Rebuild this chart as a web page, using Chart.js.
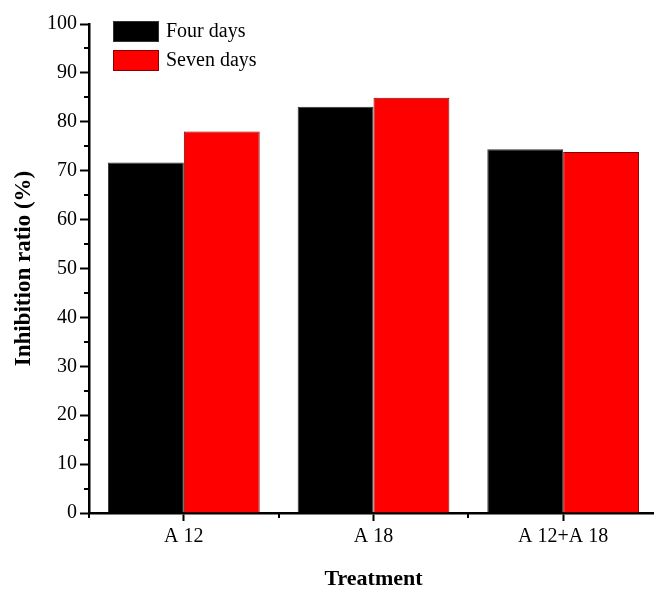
<!DOCTYPE html>
<html>
<head>
<meta charset="utf-8">
<title>Inhibition ratio</title>
<script src="https://cdn.jsdelivr.net/npm/chart.js@4/dist/chart.umd.min.js"></script>
<style>
  html, body { margin: 0; padding: 0; background: #fff; overflow: hidden; }
  canvas { display: block; }
</style>
</head>
<body>
<canvas id="chart-inhibition" width="660" height="590"></canvas>
<script>
// data
var treatments = ["A 12", "A 18", "A 12+A 18"];
var seriesNames = ["Four days", "Seven days"];
var fourDays = [71.7, 83.1, 74.4];
var sevenDays = [78.0, 84.9, 73.8];
var yMinorTicks = [5, 15, 25, 35, 45, 55, 65, 75, 85, 95];

var serif = "'Liberation Serif', 'Times New Roman', serif";

// minor ticks + legend inside plot
var extrasPlugin = {
  id: "extras",
  afterDraw: function (chart) {
    var ctx = chart.ctx;
    var area = chart.chartArea;
    var x = chart.scales.x;
    var y = chart.scales.y;
    ctx.save();
    ctx.strokeStyle = "#000";
    ctx.lineWidth = 2;
    // y minor
    for (var i = 0; i < yMinorTicks.length; i++) {
      var py = Math.round(y.getPixelForValue(yMinorTicks[i]));
      ctx.beginPath();
      ctx.moveTo(area.left, py);
      ctx.lineTo(area.left - 5, py);
      ctx.stroke();
    }
    // x minor (between categories)
    for (var j = -1; j < treatments.length; j++) {
      var px = Math.round((x.getPixelForValue(j) + x.getPixelForValue(j + 1)) / 2);
      ctx.beginPath();
      ctx.moveTo(px, area.bottom);
      ctx.lineTo(px, area.bottom + 5);
      ctx.stroke();
    }
    // legend
    var ds = chart.data.datasets;
    ctx.font = "20px " + serif;
    ctx.textBaseline = "middle";
    ctx.textAlign = "left";
    for (var k = 0; k < ds.length; k++) {
      var bx = area.left + 24;
      var by = area.top - 3 + k * 29;
      ctx.fillStyle = ds[k].backgroundColor;
      ctx.fillRect(bx, by, 46, 21);
      ctx.lineWidth = 1;
      ctx.strokeStyle = ds[k].borderColor;
      ctx.strokeRect(bx + 0.5, by + 0.5, 45, 20);
      ctx.fillStyle = "#000";
      ctx.fillText(ds[k].label, bx + 53, by + 11);
    }
    ctx.restore();
  },
};

var ctxInhibition = document.getElementById("chart-inhibition").getContext("2d");
var myChart = new Chart(ctxInhibition, {
  type: "bar",
  data: {
    labels: treatments,
    datasets: [
      {
        label: seriesNames[0],
        data: fourDays,
        backgroundColor: "#000000",
        borderColor: "#333333",
        borderWidth: 1,
      },
      {
        label: seriesNames[1],
        data: sevenDays,
        backgroundColor: "#ff0000",
        borderColor: "#8a0000",
        borderWidth: 1,
      },
    ],
  },
  options: {
    responsive: false,
    animation: false,
    devicePixelRatio: 1,
    layout: { padding: { top: 24, right: 2, left: 0, bottom: 0 } },
    plugins: {
      legend: { display: false },
      tooltip: { enabled: false },
    },
    datasets: {
      bar: { categoryPercentage: 0.8, barPercentage: 1.0 },
    },
    scales: {
      x: {
        afterFit: function (scale) {
          scale.height = 77;
        },
        grid: {
          display: true,
          drawOnChartArea: false,
          offset: false,
          tickLength: 8,
          tickWidth: 2,
          color: "#000",
        },
        border: { display: true, color: "#000", width: 2.5 },
        ticks: {
          color: "#000",
          padding: 4,
          font: { family: serif, size: 20 },
        },
        title: {
          display: true,
          text: "Treatment",
          color: "#000",
          padding: { top: 13, bottom: 0 },
          font: { family: serif, size: 22, weight: "bold", lineHeight: 1.0 },
        },
      },
      y: {
        min: 0,
        max: 100,
        afterFit: function (scale) {
          scale.width = 89;
        },
        grid: {
          display: true,
          drawOnChartArea: false,
          tickLength: 9,
          tickWidth: 2,
          color: "#000",
        },
        border: { display: true, color: "#000", width: 2.5 },
        ticks: {
          stepSize: 10,
          color: "#000",
          padding: 3,
          font: { family: serif, size: 20 },
        },
        title: {
          display: true,
          text: "Inhibition ratio (%)",
          color: "#000",
          padding: { top: 10, bottom: 0 },
          font: { family: serif, size: 23, weight: "bold" },
        },
      },
    },
  },
  plugins: [extrasPlugin],
});
</script>
</body>
</html>
